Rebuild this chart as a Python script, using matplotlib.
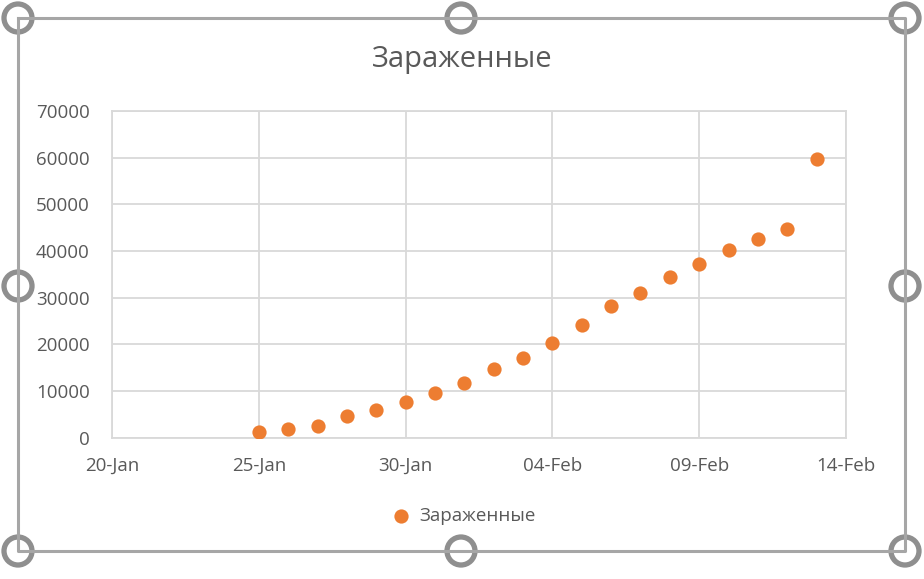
import matplotlib
matplotlib.use("Agg")
import matplotlib.pyplot as plt
import matplotlib.dates as mdates
from matplotlib.patches import Circle
from matplotlib.lines import Line2D
import datetime as dt

# data (cases per day)
dates = [dt.date(2020, 1, 25) + dt.timedelta(days=i) for i in range(20)]
infected = [1300, 1900, 2500, 4700, 5900, 7700, 9600, 11700, 14700, 17100,
            20300, 24100, 28200, 31000, 34400, 37200, 40200, 42600, 44700, 59700]
series_name = "Зараженные"
x_ticks = [dt.date(2020, 1, 20) + dt.timedelta(days=5 * i) for i in range(6)]
y_ticks = [0, 10000, 20000, 30000, 40000, 50000, 60000, 70000]

plt.rcParams['font.family'] = ['Open Sans', 'DejaVu Sans']
text_col = "#595959"
grid_col = "#d9d9d9"
orange = "#ED7D31"

W, H = 924, 579
fig = plt.figure(figsize=(W / 100, H / 100), dpi=100)

ax = fig.add_axes([112 / W, 1 - 437.7 / H, (846 - 112) / W, (437.7 - 111) / H])
ax.scatter(dates, infected, s=105, color=orange, zorder=3, label=series_name,
           linewidths=0)
ax.set_xlim(x_ticks[0], x_ticks[-1])
ax.set_ylim(0, 70000)
ax.set_xticks(x_ticks)
ax.set_yticks(y_ticks)
ax.xaxis.set_major_formatter(mdates.DateFormatter("%d-%b"))
ax.grid(True, color=grid_col, linewidth=1.3)
ax.set_axisbelow(True)
for s in ax.spines.values():
    s.set_color(grid_col)
    s.set_linewidth(1.3)
ax.tick_params(length=0, labelsize=13.5, colors=text_col)
ax.tick_params(axis="x", pad=14)
ax.tick_params(axis="y", pad=16)
fig.text(0.5, 1 - 60 / H, series_name, fontsize=21, color=text_col,
         ha="center", va="center")

leg = ax.legend(loc="center",
                bbox_to_anchor=(0.5 - 20 / 734, (437.7 - 516) / (437.7 - 111)),
                frameon=False, fontsize=13.5, handletextpad=0.0,
                markerscale=1.0, labelcolor=text_col)

# selection frame with handles, as in the spreadsheet screenshot
ov = fig.add_axes([0, 0, 1, 1], zorder=10)
ov.set_xlim(0, W)
ov.set_ylim(H, 0)
ov.axis("off")
ov.patch.set_alpha(0)
fc = "#8f8f8f"
x0, x1, y0, y1 = 18, 905, 18, 551
xm, ym = 461, 286
ov.add_line(Line2D([x0, x1, x1, x0, x0], [y0, y0, y1, y1, y0], color="#a6a6a6", lw=2.2))
for hx, hy in [(x0, y0), (xm, y0), (x1, y0), (x0, ym), (x1, ym),
               (x0, y1), (xm, y1), (x1, y1)]:
    ov.add_patch(Circle((hx, hy), 14, facecolor="white", edgecolor=fc, lw=3.8))

fig.savefig("out.png", dpi=100)
